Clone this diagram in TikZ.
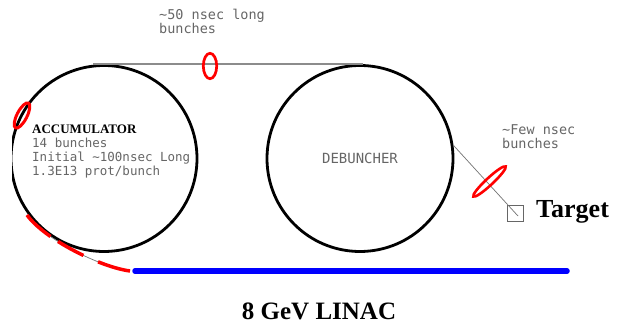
\documentclass[tikz,border=0pt]{standalone}
\usepackage{fontspec}
\setmainfont{Liberation Serif}
\newfontfamily\monof{DejaVu Sans Mono}
\usetikzlibrary{shapes.geometric}
\tikzset{
  ring/.style={circle, draw=black, line width=2.8pt, inner sep=0pt},
  bunch/.style={ellipse, draw=red, inner sep=0pt},
  note/.style={font=\monof\fontsize{13.5}{14}\selectfont, text=black!60, align=left, inner sep=0pt, anchor=west},
  bold/.style={font=\bfseries\fontsize{25}{27}\selectfont, inner sep=0pt},
  transfer/.style={draw=black!45, line width=1.2pt},
  thinline/.style={draw=black!55, line width=0.7pt},
  linac/.style={draw=blue, line width=5.5pt, line cap=round},
  injbunch/.style={draw=red, line width=3.5pt, dash pattern=on 32pt off 9pt on 29pt off 16pt on 40pt}
}
\begin{document}
\begin{tikzpicture}[x=1pt,y=1pt]
\useasboundingbox (0,0) rectangle (619,324);
\fill[white] (0,0) rectangle (619,324);

% rings
\begin{scope}
  \clip (12,0) rectangle (619,324);
  \node[ring, minimum size=186pt] (acc) at (104,165.5) {};
\end{scope}
\node[ring, minimum size=186pt, font=\monof\fontsize{14}{14}\selectfont, text=black!60] (deb) at (360,165.5) {DEBUNCHER};

% transfer line between the rings
\draw[transfer] ([xshift=-11pt]acc.north) -- ([xshift=3pt]deb.north);
\node[bunch, line width=2.7pt, minimum width=13.4pt, minimum height=25.4pt] (b2) at (210,258) {};

% extraction line to the target
\node[draw=black!60, line width=0.8pt, minimum size=16pt, inner sep=0pt] (tgt) at (515,111) {};
\draw[thinline] (deb.8) -- ([shift={(3pt,-3pt)}]tgt.center);
\node[bunch, line width=2.6pt, minimum width=44pt, minimum height=7pt, rotate=43] (b3) at (489.5,142.5) {};
\node[bold, font=\bfseries\fontsize{26}{28}\selectfont, anchor=west] (tlabel) at (536,112) {Target};

% bunch circulating in the accumulator
\node[bunch, line width=3pt, minimum width=28pt, minimum height=10pt, rotate=62.6] (b1) at (22,208.5) {};

% linac and injection into the accumulator
\coordinate (inj) at (27,109);
\coordinate (injEnd) at (130,53);
\coordinate (linA) at (135,53);
\coordinate (linB) at (567,53);
\draw[thinline] (inj) .. controls (44.6,84.7) and (100,57) .. (injEnd);
\draw[injbunch] (inj) .. controls (44.6,84.7) and (100,57) .. (injEnd);
\draw[linac] (linA) -- (linB);
\node[bold] (llabel) at (319,13) {8 GeV LINAC};

% annotations
\node[bold, font=\bfseries\fontsize{13}{14}\selectfont, anchor=west] (acclabel) at (32,195) {ACCUMULATOR};
\node[note, font=\monof\fontsize{12.5}{14}\selectfont] (acctext) at (32,166) {14 bunches\\Initial \textasciitilde100nsec Long\\1.3E13 prot/bunch};
\node[note] (toptext) at (159,302.5) {\textasciitilde50 nsec long\\bunches};
\node[note] (righttext) at (502,187.5) {\textasciitilde Few nsec\\bunches};
\end{tikzpicture}
\end{document}
